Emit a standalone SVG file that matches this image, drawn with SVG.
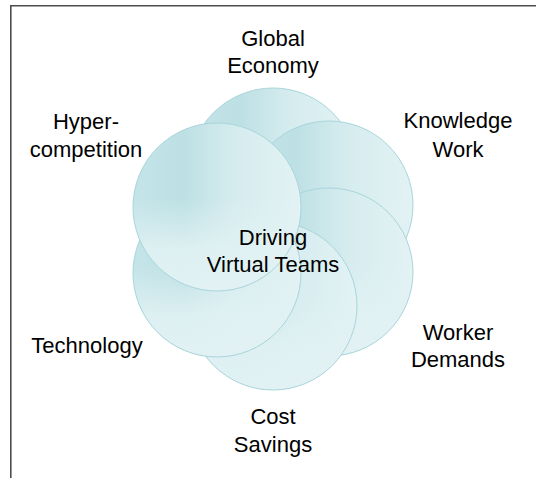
<svg xmlns="http://www.w3.org/2000/svg" width="536" height="478" viewBox="0 0 536 478">
  <defs>
    <linearGradient id="gh" x1="0" y1="0" x2="1" y2="0">
      <stop offset="0" stop-color="#c4e4e8"/>
      <stop offset="0.3" stop-color="#bde0e4"/>
      <stop offset="0.6" stop-color="#d5ecef"/>
      <stop offset="1" stop-color="#e3f2f4"/>
    </linearGradient>
    <linearGradient id="gv" x1="0" y1="0" x2="0" y2="1">
      <stop offset="0" stop-color="#e2f2f4" stop-opacity="0"/>
      <stop offset="0.45" stop-color="#e2f2f4" stop-opacity="0"/>
      <stop offset="0.75" stop-color="#e2f2f4" stop-opacity="0.85"/>
      <stop offset="1" stop-color="#e2f2f4" stop-opacity="1"/>
    </linearGradient>
  </defs>
  <style>
    .c { fill: url(#gh); }
    .o { fill: url(#gv); stroke: #a8d5db; stroke-width: 1; }
    .t { font-family: "Liberation Sans", Arial, sans-serif; font-size: 22px; fill: #000; text-anchor: middle; }
    .frame { fill: none; stroke: #4d4d4d; stroke-width: 1.6; }
  </style>
  <path class="frame" d="M10.8 478 V5.8 H536"/>
  <g id="connectors"/>
  <g id="global-economy">
    <circle class="c" cx="273" cy="172" r="84"/>
    <circle class="o" cx="273" cy="172" r="84"/>
  </g>
  <g id="knowledge-work">
    <circle class="c" cx="329" cy="205" r="84"/>
    <circle class="o" cx="329" cy="205" r="84"/>
  </g>
  <g id="worker-demands">
    <circle class="c" cx="329" cy="272" r="84"/>
    <circle class="o" cx="329" cy="272" r="84"/>
  </g>
  <g id="cost-savings">
    <circle class="c" cx="273" cy="306" r="84"/>
    <circle class="o" cx="273" cy="306" r="84"/>
  </g>
  <g id="technology">
    <circle class="c" cx="217" cy="273" r="84"/>
    <circle class="o" cx="217" cy="273" r="84"/>
  </g>
  <g id="hyper-competition">
    <circle class="c" cx="217" cy="207" r="84"/>
    <circle class="o" cx="217" cy="207" r="84"/>
  </g>
  <g id="labels">
    <text class="t" x="273" y="46">Global</text>
    <text class="t" x="273" y="73">Economy</text>
    <text class="t" x="86" y="129">Hyper-</text>
    <text class="t" x="86" y="157">competition</text>
    <text class="t" x="458" y="128">Knowledge</text>
    <text class="t" x="458" y="157">Work</text>
    <text class="t" x="87" y="353">Technology</text>
    <text class="t" x="458" y="340">Worker</text>
    <text class="t" x="458" y="367">Demands</text>
    <text class="t" x="273" y="424">Cost</text>
    <text class="t" x="273" y="452">Savings</text>
  </g>
  <g id="center">
    <text class="t" x="273" y="245">Driving</text>
    <text class="t" x="273" y="272">Virtual Teams</text>
  </g>
</svg>
